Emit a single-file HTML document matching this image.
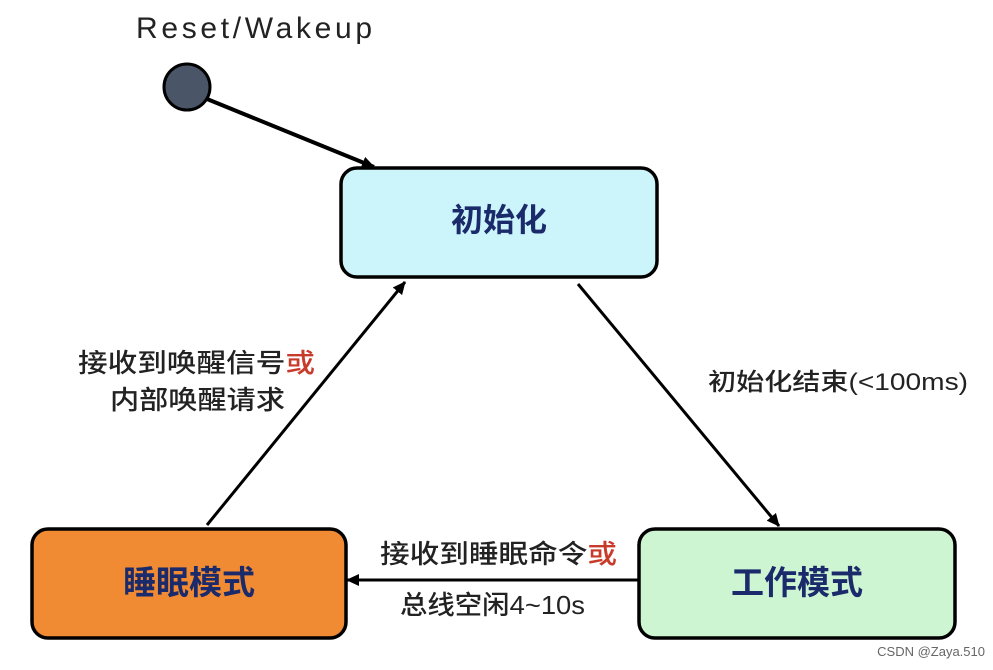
<!DOCTYPE html>
<html><head><meta charset="utf-8"><style>
body{margin:0;background:#fff;}
svg text{font-family:"Liberation Sans","Noto Sans CJK SC",sans-serif;}
</style></head><body>
<svg width="993" height="665" viewBox="0 0 993 665" xmlns="http://www.w3.org/2000/svg">
<defs><marker id="a" markerWidth="13" markerHeight="12" refX="12" refY="6" orient="auto" markerUnits="userSpaceOnUse"><path d="M0,0 L13,6 L0,12 z" fill="#000"/></marker></defs>
<rect width="993" height="665" fill="#fff"/>
<text x="136" y="38" font-size="30" fill="#222" textLength="236">Reset/Wakeup</text>
<circle cx="187" cy="87" r="23" fill="#4a5568" stroke="#000" stroke-width="3"/>
<line x1="207" y1="99" x2="374" y2="167" stroke="#000" stroke-width="4" marker-end="url(#a)"/>
<rect x="341" y="168" width="316" height="109" rx="16" fill="#ccf5fb" stroke="#000" stroke-width="3.5"/>
<text x="499" y="231" font-size="32" font-weight="600" fill="#1a2a6a" text-anchor="middle">初始化</text>
<line x1="578" y1="284" x2="779" y2="526" stroke="#000" stroke-width="3" marker-end="url(#a)"/>
<text x="708" y="390" font-size="24" font-weight="500" fill="#222" textLength="260" lengthAdjust="spacingAndGlyphs">初始化结束(&lt;100ms)</text>
<line x1="207" y1="525" x2="405" y2="282" stroke="#000" stroke-width="3" marker-end="url(#a)"/>
<text x="78" y="372" font-size="26" font-weight="500" fill="#222" textLength="237" lengthAdjust="spacingAndGlyphs">接收到唤醒信号<tspan fill="#c83a2a">或</tspan></text>
<text x="110" y="409" font-size="26" font-weight="500" fill="#222" textLength="175" lengthAdjust="spacingAndGlyphs">内部唤醒请求</text>
<rect x="32" y="529" width="314" height="109" rx="16" fill="#f08a33" stroke="#000" stroke-width="3.5"/>
<text x="189" y="594" font-size="33" font-weight="600" fill="#1a2a6a" text-anchor="middle">睡眠模式</text>
<rect x="639" y="529" width="316" height="109" rx="16" fill="#cef5d2" stroke="#000" stroke-width="3.5"/>
<text x="797" y="594" font-size="33" font-weight="600" fill="#1a2a6a" text-anchor="middle">工作模式</text>
<line x1="638" y1="580" x2="347" y2="580" stroke="#000" stroke-width="3" marker-end="url(#a)"/>
<text x="380" y="563" font-size="26" font-weight="500" fill="#222" textLength="237" lengthAdjust="spacingAndGlyphs">接收到睡眠命令<tspan fill="#c83a2a">或</tspan></text>
<text x="400" y="614" font-size="26" font-weight="500" fill="#222" textLength="185" lengthAdjust="spacingAndGlyphs">总线空闲4~10s</text>
<text x="985" y="656" font-size="13" fill="#666" text-anchor="end">CSDN @Zaya.510</text>
</svg>
</body></html>
